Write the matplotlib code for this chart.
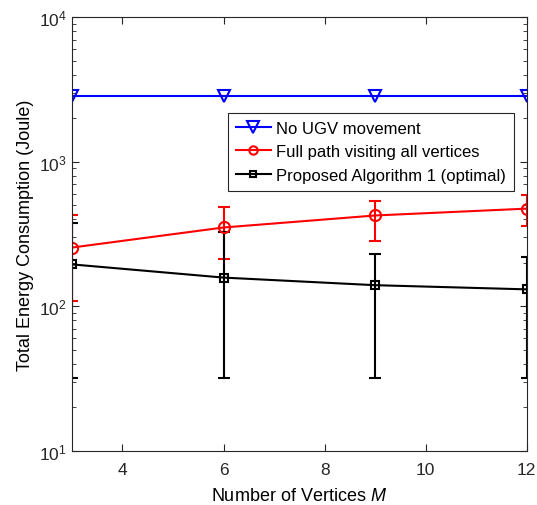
import numpy as np
import matplotlib.pyplot as plt
from matplotlib.lines import Line2D

plt.rcParams['font.family'] = ['Liberation Sans', 'DejaVu Sans']
plt.rcParams['mathtext.fontset'] = 'custom'
plt.rcParams['mathtext.it'] = 'Liberation Sans:italic'
plt.rcParams['mathtext.rm'] = 'Liberation Sans'

M = np.array([3, 6, 9, 12])

no_move = np.array([2850, 2850, 2850, 2850])

full_path = np.array([255, 351, 425, 474])
full_lo = np.array([108, 214, 281, 362])
full_hi = np.array([425, 490, 538, 591])

proposed = np.array([195, 158, 140, 131])
prop_lo = np.array([31.8, 31.8, 31.8, 31.8])
prop_hi = np.array([379, 329, 229, 221])

labels = ['No UGV movement', 'Full path visiting all vertices',
          'Proposed Algorithm 1 (optimal)']

fig = plt.figure(figsize=(5.37, 5.06), dpi=100)
ax = fig.add_axes([0.134, 0.107, 0.847, 0.857])

ax.plot(M, no_move, 'v-', color='b', lw=1.5, ms=8, mfc='none', mew=1.5)
ax.errorbar(M, full_path, yerr=[full_path - full_lo, full_hi - full_path],
            fmt='o-', color='r', lw=1.5, ms=8, mfc='none', mew=1.5,
            capsize=4, capthick=1.5, elinewidth=1.5)
ax.errorbar(M, proposed, yerr=[proposed - prop_lo, prop_hi - proposed],
            fmt='s-', color='k', lw=1.5, ms=6, mfc='none', mew=1.5,
            capsize=4, capthick=1.5, elinewidth=1.5)

ax.set_yscale('log')
ax.set_xlim(3, 12)
ax.set_ylim(10, 1e4)
ax.set_xticks([4, 6, 8, 10, 12])
ax.tick_params(which='both', direction='in', top=True, right=True,
               labelsize=12.5, colors='0.15')
ax.tick_params(axis='x', pad=8)
ax.tick_params(which='major', length=5)
ax.tick_params(which='minor', length=3)
for s in ax.spines.values():
    s.set_color('0.15')

ax.set_xlabel('Number of Vertices $M$', fontsize=13, labelpad=7)
ax.set_ylabel('Total Energy Consumption (Joule)', fontsize=13)

# legend shows only line + marker, no error bars
handles = [
    Line2D([], [], color='b', marker='v', lw=1.5, ms=8, mfc='none', mew=1.5),
    Line2D([], [], color='r', marker='o', lw=1.5, ms=6, mfc='none', mew=1.5),
    Line2D([], [], color='k', marker='s', lw=1.5, ms=5, mfc='none', mew=1.5),
]
leg = ax.legend(handles, labels, loc='upper right',
                bbox_to_anchor=(0.972, 0.78), fontsize=12,
                fancybox=False, edgecolor='0.15', framealpha=1,
                handlelength=2.1, borderpad=0.5, labelspacing=0.5,
                handletextpad=0.3, borderaxespad=0)
leg.get_frame().set_linewidth(0.8)

fig.savefig('out.png', dpi=100)
